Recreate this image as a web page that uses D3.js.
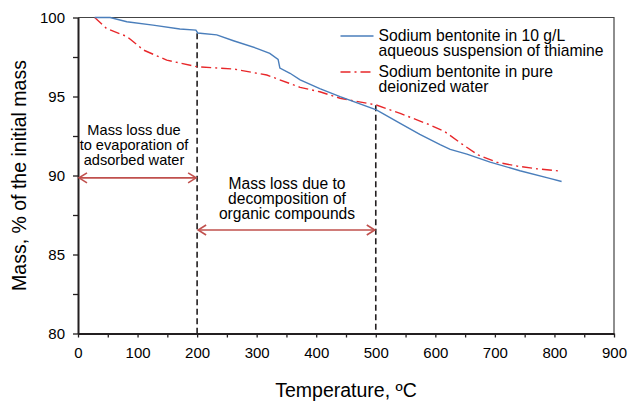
<!DOCTYPE html>
<html>
<head>
<meta charset="utf-8">
<script src="https://cdn.jsdelivr.net/npm/d3@7"></script>
<style>
  body { margin: 0; background: #fff; }
  text { font-family: Arial, "Liberation Sans", sans-serif; fill: #000; }
</style>
</head>
<body>
<div id="chart"></div>
<script>
// thiamine suspension (blue)
var thiamineTemp = [28, 54, 82, 126, 171, 198, 201, 233, 261, 300, 322, 336, 339, 356, 373, 406, 440, 501, 541, 574, 608, 625, 653, 692, 742, 792, 812];
var thiamineMass = [100, 100, 99.73, 99.52, 99.27, 99.2, 99.02, 98.9, 98.53, 98.05, 97.73, 97.35, 96.8, 96.47, 96.05, 95.5, 94.99, 94.15, 93.3, 92.6, 91.95, 91.65, 91.35, 90.85, 90.3, 89.82, 89.62];

// pure deionized water (red)
var waterTemp = [28, 48, 82, 110, 149, 199, 261, 317, 373, 406, 440, 501, 541, 591, 616, 647, 672, 703, 737, 770, 809];
var waterMass = [100, 99.3, 98.8, 97.94, 97.3, 96.89, 96.74, 96.36, 95.58, 95.3, 94.89, 94.46, 93.93, 93.2, 92.77, 91.93, 91.3, 90.84, 90.6, 90.43, 90.28];

var xTicks = [0, 100, 200, 300, 400, 500, 600, 700, 800, 900];
var yTicks = [80, 85, 90, 95, 100];

// dashed boundaries and their top ends
var boundTemp = [200, 500];
var boundTop = [99.0, 94.45];

// double arrows: from, to, level
var arrowFrom = [0, 200];
var arrowTo = [200, 500];
var arrowLevel = [89.85, 86.55];

var note1 = ["Mass loss due", "to evaporation of", "adsorbed water"];
var note2 = ["Mass loss due to", "decomposition of", "organic compounds"];

var legendNames = [["Sodium bentonite in 10 g/L", "aqueous suspension of thiamine"],
                   ["Sodium bentonite in pure", "deionized water"]];

var svgWidth = 628;
var svgHeight = 401;
var margin = { top: 17.5, right: 14, bottom: 67.5, left: 78 };
var chartWidth = svgWidth - margin.left - margin.right;
var chartHeight = svgHeight - margin.top - margin.bottom;

var svg = d3.select("#chart")
            .append("svg")
            .attr("width", svgWidth)
            .attr("height", svgHeight);

var chartGroup = svg.append("g")
                    .attr("transform", `translate(${margin.left},${margin.top})`);

var x = d3.scaleLinear().domain([0, 900]).range([0, chartWidth]);
var y = d3.scaleLinear().domain([80, 100]).range([chartHeight, 0]);

var axisColor = "#231f20";

// frame top/right
chartGroup.append("path")
    .attr("d", `M0,0H${chartWidth}V${chartHeight}`)
    .attr("fill", "none")
    .attr("stroke", "#444")
    .attr("stroke-width", 1.2);

// minor ticks
chartGroup.append("g")
    .attr("transform", `translate(0,${chartHeight})`)
    .call(d3.axisBottom(x).tickValues(d3.range(50, 900, 100)).tickSize(4).tickFormat(""))
    .call(g => g.select(".domain").remove())
    .selectAll("line").attr("stroke", axisColor).attr("stroke-width", 1.3);

chartGroup.append("g")
    .call(d3.axisLeft(y).tickValues([82.5, 87.5, 92.5, 97.5]).tickSize(5).tickFormat(""))
    .call(g => g.select(".domain").remove())
    .selectAll("line").attr("stroke", axisColor).attr("stroke-width", 1.3);

var xAxis = chartGroup.append("g")
    .attr("transform", `translate(0,${chartHeight})`)
    .call(d3.axisBottom(x).tickValues(xTicks).tickSize(4).tickSizeOuter(0).tickPadding(10));

var yAxis = chartGroup.append("g")
    .call(d3.axisLeft(y).tickValues(yTicks).tickSize(5).tickSizeOuter(0).tickPadding(8));

[xAxis, yAxis].forEach(function(g) {
    g.select(".domain").attr("stroke", axisColor).attr("stroke-width", 2);
    g.selectAll(".tick line").attr("stroke", axisColor).attr("stroke-width", 1.3);
    g.selectAll(".tick text").attr("font-size", "15px").attr("fill", "#000")
     .style("font-family", "Arial, 'Liberation Sans', sans-serif");
});

// dashed boundaries
chartGroup.selectAll(".bound")
    .data(boundTemp)
    .enter()
    .append("line")
    .attr("x1", d => x(d))
    .attr("x2", d => x(d))
    .attr("y1", (d, i) => y(boundTop[i]))
    .attr("y2", chartHeight)
    .attr("stroke", axisColor)
    .attr("stroke-width", 1.6)
    .attr("stroke-dasharray", "6,3.5");

// lines
var line = d3.line()
    .x(d => x(d[0]))
    .y(d => y(d[1]));

chartGroup.append("path")
    .datum(waterTemp.map((t, i) => [t, waterMass[i]]))
    .attr("d", line)
    .attr("fill", "none")
    .attr("stroke", "#e8272a")
    .attr("stroke-width", 1.4)
    .attr("stroke-dasharray", "10,4,2,4");

chartGroup.append("path")
    .datum(thiamineTemp.map((t, i) => [t, thiamineMass[i]]))
    .attr("d", line)
    .attr("fill", "none")
    .attr("stroke", "#4a7ebb")
    .attr("stroke-width", 1.4);

// arrows
var arrowColor = "#c0504d";
arrowFrom.forEach(function(a, i) {
    var x1 = x(a), x2 = x(arrowTo[i]), yy = y(arrowLevel[i]);
    var g = chartGroup.append("g")
        .attr("fill", "none")
        .attr("stroke", arrowColor)
        .attr("stroke-width", 1.6);
    g.append("line").attr("x1", x1 + 1).attr("x2", x2 - 1).attr("y1", yy).attr("y2", yy);
    g.append("path").attr("d", `M${x1 + 9},${yy - 5}L${x1 + 1},${yy}L${x1 + 9},${yy + 5}`);
    g.append("path").attr("d", `M${x2 - 9},${yy - 5}L${x2 - 1},${yy}L${x2 - 9},${yy + 5}`);
});

// notes
chartGroup.append("text")
    .attr("text-anchor", "middle")
    .attr("font-size", "14.6px")
    .selectAll("tspan")
    .data(note1)
    .enter()
    .append("tspan")
    .attr("x", 134 - margin.left)
    .attr("y", (d, i) => 135 - margin.top + i * 15)
    .text(d => d);

chartGroup.append("text")
    .attr("text-anchor", "middle")
    .attr("font-size", "15.6px")
    .selectAll("tspan")
    .data(note2)
    .enter()
    .append("tspan")
    .attr("x", 287 - margin.left)
    .attr("y", (d, i) => 188.5 - margin.top + i * 15)
    .text(d => d);

// legend
var legend = svg.append("g").attr("transform", "translate(340.5,0)");
var legendColors = ["#4a7ebb", "#e8272a"];
var legendDash = [null, "10,4,2,4"];
var legendY = [36, 72];
legendNames.forEach(function(names, i) {
    legend.append("line")
        .attr("x1", 0).attr("x2", 33)
        .attr("y1", legendY[i]).attr("y2", legendY[i])
        .attr("stroke", legendColors[i])
        .attr("stroke-width", 1.4)
        .attr("stroke-dasharray", legendDash[i]);
    legend.append("text")
        .attr("font-size", "15.7px")
        .selectAll("tspan")
        .data(names)
        .enter()
        .append("tspan")
        .attr("x", 38)
        .attr("y", (d, j) => legendY[i] + 4.7 + j * 15.3)
        .text(d => d);
});

// axis titles
svg.append("text")
    .attr("x", margin.left + chartWidth / 2)
    .attr("y", 396.5)
    .attr("text-anchor", "middle")
    .attr("font-size", "19.5px")
    .text("Temperature, ºC");

svg.append("text")
    .attr("transform", `translate(25.5,${margin.top + chartHeight / 2})rotate(-90)`)
    .attr("text-anchor", "middle")
    .attr("font-size", "19.5px")
    .text("Mass, % of the initial mass");
</script>
</body>
</html>
